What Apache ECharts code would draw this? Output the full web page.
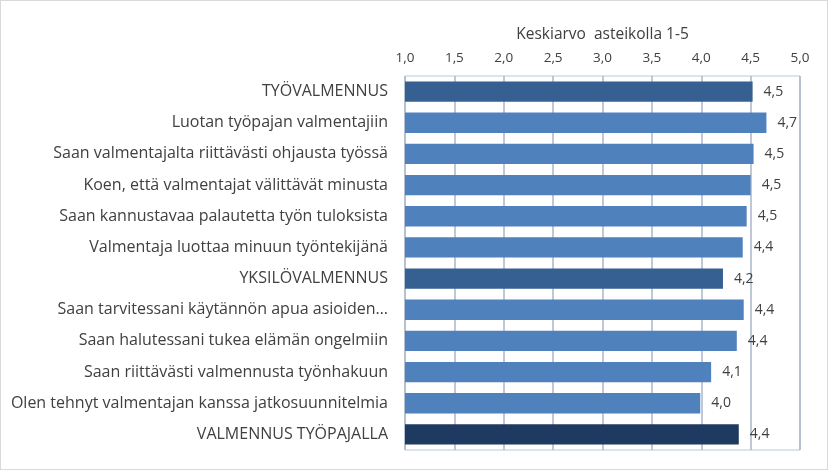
<!DOCTYPE html>
<html>
<head>
<meta charset="utf-8">
<script src="https://cdn.jsdelivr.net/npm/echarts@6/dist/echarts.min.js"></script>
<style>
html,body{margin:0;padding:0;background:#fff;}
#frame{position:absolute;left:0;top:0;width:826px;height:468px;border:1px solid #d9d9d9;}
#chart{position:absolute;left:0;top:0;width:828px;height:470px;}
</style>
</head>
<body>
<div id="frame"></div>
<div id="chart"></div>
<script>
const categories = [
  "TYÖVALMENNUS",
  "Luotan työpajan valmentajiin",
  "Saan valmentajalta riittävästi ohjausta työssä",
  "Koen, että valmentajat välittävät minusta",
  "Saan kannustavaa palautetta työn tuloksista",
  "Valmentaja luottaa minuun työntekijänä",
  "YKSILÖVALMENNUS",
  "Saan tarvitessani käytännön apua asioiden…",
  "Saan halutessani tukea elämän ongelmiin",
  "Saan riittävästi valmennusta työnhakuun",
  "Olen tehnyt valmentajan kanssa jatkosuunnitelmia",
  "VALMENNUS TYÖPAJALLA"
];
const values = [4.52, 4.66, 4.53, 4.50, 4.46, 4.42, 4.22, 4.43, 4.36, 4.10, 3.99, 4.38];
const barTypes = ["header","item","item","item","item","item","header","item","item","item","item","total"];
const typeColors = {header: "#365F92", item: "#4F81BD", total: "#1F3A60"};
const axisName = "Keskiarvo  asteikolla 1-5";

const chart = echarts.init(document.getElementById('chart'), null, {renderer: 'canvas'});
const fontFam = "'Open Sans', 'Noto Sans', sans-serif";
chart.setOption({
  animation: false,
  grid: {left: 405, right: 28, top: 76, bottom: 20, show: true, borderColor: '#BCC7D6', borderWidth: 1, backgroundColor: 'transparent'},
  xAxis: {
    type: 'value', position: 'top', min: 1, max: 5, interval: 0.5,
    name: axisName, nameLocation: 'middle', nameGap: 33,
    nameTextStyle: {color: '#404040', fontSize: 15.5, fontFamily: fontFam},
    axisLine: {show: false}, axisTick: {show: false},
    axisLabel: {color: '#404040', fontSize: 13.5, fontFamily: fontFam, margin: 11,
      formatter: v => v.toFixed(1).replace('.', ',')},
    splitLine: {show: true, lineStyle: {color: '#A9B6C8', width: 1.5}}
  },
  yAxis: {
    type: 'category', inverse: true, data: categories,
    axisLine: {show: false}, axisTick: {show: false},
    axisLabel: {color: '#404040', fontSize: 16, fontFamily: fontFam, margin: 17}
  },
  series: [{
    type: 'bar', barWidth: '65%',
    data: values.map((v, i) => ({value: v, itemStyle: {color: typeColors[barTypes[i]]}})),
    label: {show: true, position: 'right', distance: 11, color: '#404040', fontSize: 14, fontFamily: fontFam,
      formatter: p => p.value.toFixed(1).replace('.', ',')}
  }]
});
</script>
</body>
</html>
